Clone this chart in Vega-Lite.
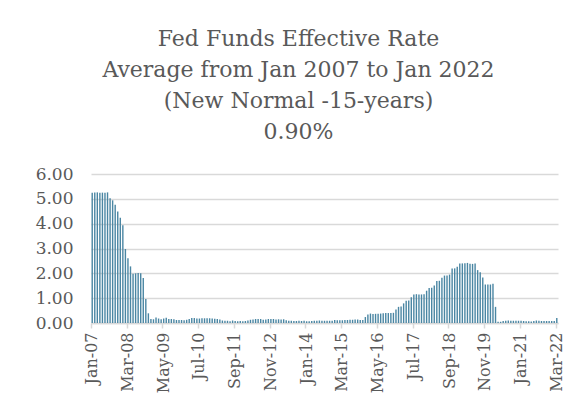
{
  "$schema": "https://vega.github.io/schema/vega-lite/v6.json",
  "autosize": {"type": "none"},
  "width": 467,
  "height": 149,
  "padding": {"left": 91, "top": 174, "right": 8, "bottom": 96},
  "background": "white",
  "title": {
    "text": ["Fed Funds Effective Rate", "Average from Jan 2007 to Jan 2022", "(New Normal -15-years)", "0.90%"],
    "font": "DejaVu Serif",
    "fontSize": 22,
    "fontWeight": "normal",
    "color": "#595959",
    "lineHeight": 31,
    "anchor": "middle",
    "dx": -26,
    "offset": 21
  },
  "config": {
    "view": {"stroke": null},
    "axis": {"labelFont": "DejaVu Serif", "labelColor": "#595959"}
  },
  "data": {
    "values": [
      {"m": "Jan-07", "r": 5.25}, {"m": "Feb-07", "r": 5.26}, {"m": "Mar-07", "r": 5.26}, {"m": "Apr-07", "r": 5.25}, {"m": "May-07", "r": 5.25}, {"m": "Jun-07", "r": 5.25}, {"m": "Jul-07", "r": 5.26}, {"m": "Aug-07", "r": 5.02}, {"m": "Sep-07", "r": 4.94}, {"m": "Oct-07", "r": 4.76}, {"m": "Nov-07", "r": 4.49}, {"m": "Dec-07", "r": 4.24},
      {"m": "Jan-08", "r": 3.94}, {"m": "Feb-08", "r": 2.98}, {"m": "Mar-08", "r": 2.61}, {"m": "Apr-08", "r": 2.28}, {"m": "May-08", "r": 1.98}, {"m": "Jun-08", "r": 2.00}, {"m": "Jul-08", "r": 2.01}, {"m": "Aug-08", "r": 2.00}, {"m": "Sep-08", "r": 1.81}, {"m": "Oct-08", "r": 0.97}, {"m": "Nov-08", "r": 0.39}, {"m": "Dec-08", "r": 0.16},
      {"m": "Jan-09", "r": 0.15}, {"m": "Feb-09", "r": 0.22}, {"m": "Mar-09", "r": 0.18}, {"m": "Apr-09", "r": 0.15}, {"m": "May-09", "r": 0.18}, {"m": "Jun-09", "r": 0.21}, {"m": "Jul-09", "r": 0.16}, {"m": "Aug-09", "r": 0.16}, {"m": "Sep-09", "r": 0.15}, {"m": "Oct-09", "r": 0.12}, {"m": "Nov-09", "r": 0.12}, {"m": "Dec-09", "r": 0.12},
      {"m": "Jan-10", "r": 0.11}, {"m": "Feb-10", "r": 0.13}, {"m": "Mar-10", "r": 0.16}, {"m": "Apr-10", "r": 0.20}, {"m": "May-10", "r": 0.20}, {"m": "Jun-10", "r": 0.18}, {"m": "Jul-10", "r": 0.18}, {"m": "Aug-10", "r": 0.19}, {"m": "Sep-10", "r": 0.19}, {"m": "Oct-10", "r": 0.19}, {"m": "Nov-10", "r": 0.19}, {"m": "Dec-10", "r": 0.18},
      {"m": "Jan-11", "r": 0.17}, {"m": "Feb-11", "r": 0.16}, {"m": "Mar-11", "r": 0.14}, {"m": "Apr-11", "r": 0.10}, {"m": "May-11", "r": 0.09}, {"m": "Jun-11", "r": 0.09}, {"m": "Jul-11", "r": 0.07}, {"m": "Aug-11", "r": 0.10}, {"m": "Sep-11", "r": 0.08}, {"m": "Oct-11", "r": 0.07}, {"m": "Nov-11", "r": 0.08}, {"m": "Dec-11", "r": 0.07},
      {"m": "Jan-12", "r": 0.08}, {"m": "Feb-12", "r": 0.10}, {"m": "Mar-12", "r": 0.13}, {"m": "Apr-12", "r": 0.14}, {"m": "May-12", "r": 0.16}, {"m": "Jun-12", "r": 0.16}, {"m": "Jul-12", "r": 0.16}, {"m": "Aug-12", "r": 0.13}, {"m": "Sep-12", "r": 0.14}, {"m": "Oct-12", "r": 0.16}, {"m": "Nov-12", "r": 0.16}, {"m": "Dec-12", "r": 0.16},
      {"m": "Jan-13", "r": 0.14}, {"m": "Feb-13", "r": 0.15}, {"m": "Mar-13", "r": 0.14}, {"m": "Apr-13", "r": 0.15}, {"m": "May-13", "r": 0.11}, {"m": "Jun-13", "r": 0.09}, {"m": "Jul-13", "r": 0.09}, {"m": "Aug-13", "r": 0.08}, {"m": "Sep-13", "r": 0.08}, {"m": "Oct-13", "r": 0.09}, {"m": "Nov-13", "r": 0.08}, {"m": "Dec-13", "r": 0.09},
      {"m": "Jan-14", "r": 0.07}, {"m": "Feb-14", "r": 0.07}, {"m": "Mar-14", "r": 0.08}, {"m": "Apr-14", "r": 0.09}, {"m": "May-14", "r": 0.09}, {"m": "Jun-14", "r": 0.10}, {"m": "Jul-14", "r": 0.09}, {"m": "Aug-14", "r": 0.09}, {"m": "Sep-14", "r": 0.09}, {"m": "Oct-14", "r": 0.09}, {"m": "Nov-14", "r": 0.09}, {"m": "Dec-14", "r": 0.12},
      {"m": "Jan-15", "r": 0.11}, {"m": "Feb-15", "r": 0.11}, {"m": "Mar-15", "r": 0.11}, {"m": "Apr-15", "r": 0.12}, {"m": "May-15", "r": 0.12}, {"m": "Jun-15", "r": 0.13}, {"m": "Jul-15", "r": 0.13}, {"m": "Aug-15", "r": 0.14}, {"m": "Sep-15", "r": 0.14}, {"m": "Oct-15", "r": 0.12}, {"m": "Nov-15", "r": 0.12}, {"m": "Dec-15", "r": 0.24},
      {"m": "Jan-16", "r": 0.34}, {"m": "Feb-16", "r": 0.38}, {"m": "Mar-16", "r": 0.36}, {"m": "Apr-16", "r": 0.37}, {"m": "May-16", "r": 0.37}, {"m": "Jun-16", "r": 0.38}, {"m": "Jul-16", "r": 0.39}, {"m": "Aug-16", "r": 0.40}, {"m": "Sep-16", "r": 0.40}, {"m": "Oct-16", "r": 0.40}, {"m": "Nov-16", "r": 0.41}, {"m": "Dec-16", "r": 0.54},
      {"m": "Jan-17", "r": 0.65}, {"m": "Feb-17", "r": 0.66}, {"m": "Mar-17", "r": 0.79}, {"m": "Apr-17", "r": 0.90}, {"m": "May-17", "r": 0.91}, {"m": "Jun-17", "r": 1.04}, {"m": "Jul-17", "r": 1.15}, {"m": "Aug-17", "r": 1.16}, {"m": "Sep-17", "r": 1.15}, {"m": "Oct-17", "r": 1.15}, {"m": "Nov-17", "r": 1.16}, {"m": "Dec-17", "r": 1.30},
      {"m": "Jan-18", "r": 1.41}, {"m": "Feb-18", "r": 1.42}, {"m": "Mar-18", "r": 1.51}, {"m": "Apr-18", "r": 1.69}, {"m": "May-18", "r": 1.70}, {"m": "Jun-18", "r": 1.82}, {"m": "Jul-18", "r": 1.91}, {"m": "Aug-18", "r": 1.91}, {"m": "Sep-18", "r": 1.95}, {"m": "Oct-18", "r": 2.19}, {"m": "Nov-18", "r": 2.20}, {"m": "Dec-18", "r": 2.27},
      {"m": "Jan-19", "r": 2.40}, {"m": "Feb-19", "r": 2.40}, {"m": "Mar-19", "r": 2.41}, {"m": "Apr-19", "r": 2.42}, {"m": "May-19", "r": 2.39}, {"m": "Jun-19", "r": 2.38}, {"m": "Jul-19", "r": 2.40}, {"m": "Aug-19", "r": 2.13}, {"m": "Sep-19", "r": 2.04}, {"m": "Oct-19", "r": 1.83}, {"m": "Nov-19", "r": 1.55}, {"m": "Dec-19", "r": 1.55},
      {"m": "Jan-20", "r": 1.55}, {"m": "Feb-20", "r": 1.58}, {"m": "Mar-20", "r": 0.65}, {"m": "Apr-20", "r": 0.05}, {"m": "May-20", "r": 0.05}, {"m": "Jun-20", "r": 0.08}, {"m": "Jul-20", "r": 0.09}, {"m": "Aug-20", "r": 0.10}, {"m": "Sep-20", "r": 0.09}, {"m": "Oct-20", "r": 0.09}, {"m": "Nov-20", "r": 0.09}, {"m": "Dec-20", "r": 0.09},
      {"m": "Jan-21", "r": 0.09}, {"m": "Feb-21", "r": 0.08}, {"m": "Mar-21", "r": 0.07}, {"m": "Apr-21", "r": 0.07}, {"m": "May-21", "r": 0.06}, {"m": "Jun-21", "r": 0.08}, {"m": "Jul-21", "r": 0.10}, {"m": "Aug-21", "r": 0.09}, {"m": "Sep-21", "r": 0.08}, {"m": "Oct-21", "r": 0.08}, {"m": "Nov-21", "r": 0.08}, {"m": "Dec-21", "r": 0.08},
      {"m": "Jan-22", "r": 0.08}, {"m": "Feb-22", "r": 0.08}, {"m": "Mar-22", "r": 0.20}
    ]
  },
  "mark": {"type": "bar", "color": "#4a86a3"},
  "encoding": {
    "x": {
      "field": "m",
      "type": "ordinal",
      "sort": null,
      "scale": {"paddingInner": 0.45, "paddingOuter": 0.2},
      "axis": {
        "title": null,
        "values": ["Jan-07", "Mar-08", "May-09", "Jul-10", "Sep-11", "Nov-12", "Jan-14", "Mar-15", "May-16", "Jul-17", "Sep-18", "Nov-19", "Jan-21", "Mar-22"],
        "labelAngle": 270,
        "labelFontSize": 16,
        "labelPadding": 4,
        "domainColor": "#d9d9d9",
        "domainWidth": 1.5,
        "tickColor": "#d9d9d9",
        "tickWidth": 1.5,
        "tickSize": 5,
        "bandPosition": 0
      }
    },
    "y": {
      "field": "r",
      "type": "quantitative",
      "scale": {"domain": [0, 6]},
      "axis": {
        "title": null,
        "values": [0, 1, 2, 3, 4, 5, 6],
        "format": ".2f",
        "labelFontSize": 17,
        "labelPadding": 18,
        "domain": false,
        "ticks": false,
        "gridColor": "#d9d9d9",
        "gridWidth": 1.5
      }
    }
  }
}
